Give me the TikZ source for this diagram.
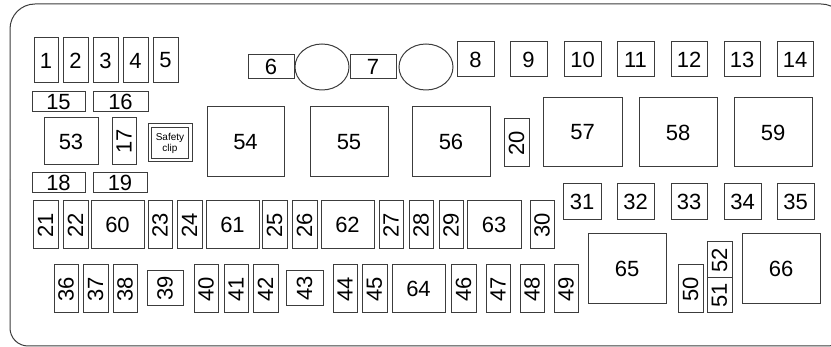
\documentclass[tikz,border=0pt]{standalone}
\usepackage{fontspec}
\setmainfont{Liberation Sans}
\usetikzlibrary{shapes.geometric}
\definecolor{edge}{RGB}{60,60,60}
\tikzset{
  fusebox/.style={draw=edge, line width=1pt, inner sep=0pt, font=\fontsize{22}{24}\selectfont},
  smalltext/.style={font=\fontsize{10}{11}\selectfont, align=center},
  outline/.style={draw=edge, line width=1pt},
  relayround/.style={ellipse, draw=edge, line width=1pt, inner sep=0pt},
}
\newcommand\fb[6]{\node[fusebox, minimum width={(#4-#2)*1pt}, minimum height={(#5-#3)*1pt}] (#1) at ({(#2+#4)/2},{(#3+#5)/2}) {#6};}
\newcommand\vfb[6]{\fb{#1}{#2}{#3}{#4}{#5}{\rotatebox{90}{#6}}}
\begin{document}
\begin{tikzpicture}[x=1pt,y=-1pt]
\useasboundingbox (0,0) rectangle (831,347);
\clip (0,0) rectangle (831,347);
% outer housing
\draw[outline, rounded corners=25pt] (10,180) |- (846,4) -- (846,180);
\draw[outline, rounded corners=18pt] (10,180) |- (846,346) -- (846,180);
% top-left fuses
\fb{f1}{34}{38}{58}{83}{1}
\fb{f2}{63}{38}{88}{83}{2}
\fb{f3}{93}{38}{118}{83}{3}
\fb{f4}{123}{38}{148}{83}{4}
\fb{f5}{153}{38}{178}{83}{5}
\fb{f15}{32}{92}{85}{112}{15}
\fb{f16}{93}{92}{148}{112}{16}
\fb{f53}{44}{118}{98}{165}{53}
\vfb{f17}{112}{118}{136}{165}{17}
\node[fusebox, minimum width=44pt, minimum height=38pt] (sco) at (170,143) {};
\node[fusebox, smalltext, minimum width=37pt, minimum height=31pt] (sci) at (sco.center) {Safety\\clip};
\fb{f18}{32}{173}{85}{193}{18}
\fb{f19}{93}{173}{147}{193}{19}
% 6, 7 and round relays
\fb{f6}{248}{55}{294}{79}{6}
\node[relayround, minimum width=54pt, minimum height=46pt] (r1) at (322,67) {};
\fb{f7}{350}{55}{396}{79}{7}
\node[relayround, minimum width=54pt, minimum height=46pt] (r2) at (426,67) {};
% top row small fuses
\fb{f8}{457}{42}{494}{77}{8}
\fb{f9}{510}{42}{547}{77}{9}
\fb{f10}{564}{42}{601}{77}{10}
\fb{f11}{617}{42}{654}{77}{11}
\fb{f12}{671}{42}{707}{77}{12}
\fb{f13}{724}{42}{760}{77}{13}
\fb{f14}{777}{42}{813}{77}{14}
% big relays
\fb{f54}{207}{107}{284}{177}{54}
\fb{f55}{310}{107}{388}{177}{55}
\fb{f56}{412}{107}{490}{177}{56}
\vfb{f20}{504}{119}{529}{167}{20}
\fb{f57}{543}{98}{622}{167}{57}
\fb{f58}{639}{98}{717}{167}{58}
\fb{f59}{734}{98}{812}{167}{59}
% 31-35
\fb{f31}{563}{184}{601}{220}{31}
\fb{f32}{617}{184}{654}{220}{32}
\fb{f33}{671}{184}{707}{220}{33}
\fb{f34}{724}{184}{761}{220}{34}
\fb{f35}{777}{184}{814}{220}{35}
% third row
\vfb{f21}{33}{201}{58}{249}{21}
\vfb{f22}{63}{201}{88}{249}{22}
\fb{f60}{91}{201}{144}{249}{60}
\vfb{f23}{148}{201}{172}{249}{23}
\vfb{f24}{177}{201}{202}{249}{24}
\fb{f61}{206}{201}{259}{249}{61}
\vfb{f25}{262}{201}{287}{249}{25}
\vfb{f26}{292}{201}{317}{249}{26}
\fb{f62}{321}{201}{374}{249}{62}
\vfb{f27}{379}{201}{403}{249}{27}
\vfb{f28}{409}{201}{433}{249}{28}
\vfb{f29}{439}{201}{463}{249}{29}
\fb{f63}{467}{201}{521}{249}{63}
\vfb{f30}{530}{201}{554}{249}{30}
% fourth row
\vfb{f36}{54}{265}{78}{313}{36}
\vfb{f37}{83}{265}{108}{313}{37}
\vfb{f38}{113}{265}{137}{313}{38}
\vfb{f39}{147}{271}{183}{306}{39}
\vfb{f40}{194}{265}{218}{313}{40}
\vfb{f41}{224}{265}{248}{313}{41}
\vfb{f42}{253}{265}{278}{313}{42}
\vfb{f43}{286}{271}{323}{306}{43}
\vfb{f44}{333}{265}{357}{313}{44}
\vfb{f45}{362}{265}{387}{313}{45}
\fb{f64}{392}{265}{445}{313}{64}
\vfb{f46}{451}{265}{476}{313}{46}
\vfb{f47}{486}{265}{510}{313}{47}
\vfb{f48}{520}{265}{544}{313}{48}
\vfb{f49}{554}{265}{578}{313}{49}
\fb{f65}{588}{234}{666}{304}{65}
\vfb{f50}{678}{265}{703}{313}{50}
\vfb{f52}{707}{242}{732}{278}{52}
\vfb{f51}{707}{278}{732}{313}{51}
\fb{f66}{742}{234}{820}{304}{66}
\end{tikzpicture}
\end{document}
